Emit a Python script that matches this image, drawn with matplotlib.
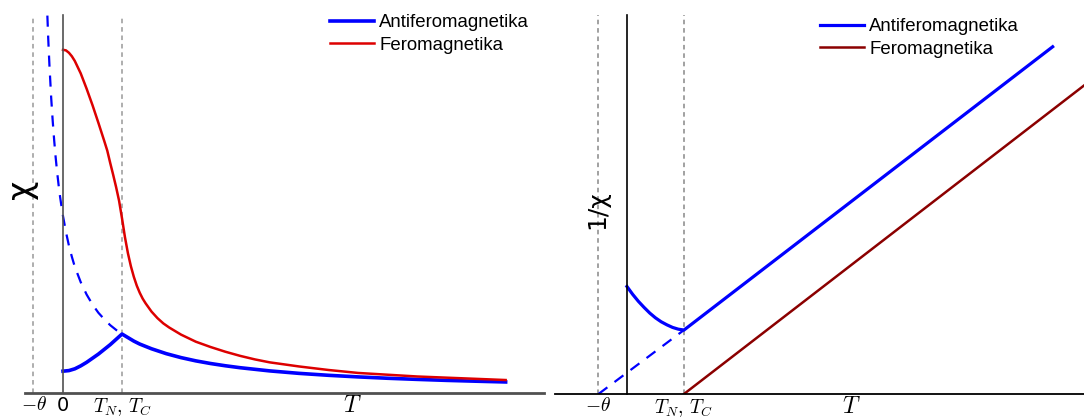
import matplotlib
matplotlib.use("Agg")
import matplotlib.pyplot as plt

plt.rcParams['mathtext.fontset'] = 'cm'
plt.rcParams['font.family'] = ['Liberation Sans', 'DejaVu Sans']

# temperatures in units of T_N (= T_C), theta = 0.5
THETA = 0.5
T_N = 1.0

# --- left panel: susceptibility chi(T) ---
afm_low_T = [0.0, 0.1, 0.2, 0.3, 0.4, 0.5, 0.6, 0.7, 0.8, 0.9, 1.0]
afm_low_chi = [0.37, 0.38, 0.41, 0.46, 0.52, 0.59, 0.66, 0.74, 0.82, 0.91, 1.0]

afm_high_T = [1.0, 1.1, 1.2, 1.3, 1.4, 1.5, 1.75, 2.0, 2.25, 2.5, 2.75, 3.0, 3.5, 4.0,
              4.5, 5.0, 5.5, 6.0, 6.5, 7.0, 7.5]
afm_high_chi = [1.0, 0.94, 0.88, 0.83, 0.79, 0.75, 0.667, 0.60, 0.545, 0.50, 0.462, 0.429,
                0.375, 0.333, 0.30, 0.273, 0.25, 0.231, 0.214, 0.20, 0.187]

cw_T = [-0.265, -0.25, -0.23, -0.2, -0.175, -0.15, -0.125, -0.1, -0.075, -0.05, -0.025, 0.0,
        0.05, 0.1, 0.15, 0.2, 0.3, 0.4, 0.5, 0.6, 0.7, 0.8, 0.9, 1.0]
cw_chi = [6.4, 6.0, 5.56, 5.0, 4.62, 4.29, 4.0, 3.75, 3.53, 3.33, 3.16, 3.0,
          2.73, 2.5, 2.31, 2.14, 1.88, 1.67, 1.5, 1.36, 1.25, 1.15, 1.07, 1.0]

fm_T = [0.0, 0.05, 0.1, 0.15, 0.2, 0.3, 0.4, 0.5, 0.6, 0.7, 0.75, 0.8, 0.85, 0.9, 0.95, 1.0,
        1.05, 1.1, 1.15, 1.2, 1.25, 1.3, 1.35, 1.4, 1.5, 1.6, 1.7, 1.8, 1.9, 2.0, 2.25, 2.5,
        2.75, 3.0, 3.25, 3.5, 4.0, 4.5, 5.0, 5.5, 6.0, 6.5, 7.0, 7.5]
fm_chi = [5.82, 5.81, 5.77, 5.71, 5.63, 5.42, 5.16, 4.88, 4.58, 4.27, 4.11, 3.90, 3.70, 3.49,
          3.26, 2.96, 2.64, 2.37, 2.15, 1.97, 1.82, 1.70, 1.60, 1.52, 1.38, 1.27, 1.18, 1.11,
          1.05, 0.99, 0.87, 0.78, 0.70, 0.63, 0.57, 0.52, 0.45, 0.39, 0.34, 0.31, 0.28, 0.26,
          0.24, 0.22]

# --- right panel: inverse susceptibility 1/chi(T) ---
inv_afm_low_T = [0.0, 0.1, 0.2, 0.3, 0.4, 0.5, 0.6, 0.7, 0.8, 0.9, 1.0]
inv_afm_low = [2.47, 2.29, 2.13, 1.99, 1.86, 1.75, 1.66, 1.59, 1.53, 1.49, 1.47]
inv_afm_high_T = [1.0, 7.47]
inv_afm_high = [1.47, 7.98]
inv_cw_T = [-THETA, 1.0]
inv_cw = [0.0, 1.47]
inv_fm_T = [1.0, 8.05]
inv_fm = [0.0, 7.12]

labels = ['Antiferomagnetika', 'Feromagnetika']
tick_labels_left = [r'$-\theta$', '0', r'$T_N,\,T_C$']
tick_labels_right = [r'$-\theta$', r'$T_N,\,T_C$']

W, H = 1084, 417
fig = plt.figure(figsize=(W / 100, H / 100), dpi=100)


def px_axes(x0, x1, y_top, y_bot):
    return fig.add_axes([x0 / W, 1 - y_bot / H, (x1 - x0) / W, (y_bot - y_top) / H])


def style_axes(ax, color, lw_bottom, lw_left):
    for s in ('top', 'right'):
        ax.spines[s].set_visible(False)
    ax.spines['left'].set_position(('data', 0))
    ax.spines['left'].set_color(color)
    ax.spines['left'].set_linewidth(lw_left)
    ax.spines['bottom'].set_color(color)
    ax.spines['bottom'].set_linewidth(lw_bottom)
    ax.set_yticks([])
    ax.tick_params(axis='x', length=0, pad=2, labelsize=14)


# ---------------- left ----------------
ax1 = px_axes(25, 544, 15, 393)
ax1.set_xlim(-0.644, 8.15)
ax1.set_ylim(0, 6.41)
style_axes(ax1, '#505050', 2.0, 1.2)
for x in (-THETA, T_N):
    ax1.axvline(x, color='#999999', ls=(0, (3, 2.5)), lw=1.1)
ax1.plot(cw_T, cw_chi, color='blue', lw=1.6, ls=(0, (5, 4)))
ax1.plot(afm_low_T + afm_high_T[1:], afm_low_chi + afm_high_chi[1:], color='blue', lw=2.6,
         label=labels[0], solid_joinstyle='round')
ax1.plot(fm_T, fm_chi, color='#dd0000', lw=1.8, label=labels[1], solid_joinstyle='round')
ax1.set_xticks([-THETA, 0, T_N])
ax1.set_xticklabels(tick_labels_left)
ax1.get_xticklabels()[1].set_fontfamily('DejaVu Sans')
ax1.get_xticklabels()[1].set_fontsize(14)
ax1.text(4.9, -0.03, r'$T$', fontsize=17, ha='center', va='top')
ax1.text(-0.71, 3.45, 'χ', fontsize=24, rotation=90, ha='center', va='center',
         family='DejaVu Sans')
ax1.legend(loc='upper left', bbox_to_anchor=(330 / W, 1 - 14 / H),
           bbox_transform=fig.transFigure, frameon=False, fontsize=13.4,
           handlelength=2.35, handletextpad=0.3, labelspacing=0.3, borderpad=0,
           borderaxespad=0)

# ---------------- right ----------------
ax2 = px_axes(555, 1084, 15, 394)
ax2.set_xlim(-1.263, 8.02)
ax2.set_ylim(0, 8.71)
style_axes(ax2, 'black', 1.3, 1.2)
for x in (-THETA, T_N):
    ax2.axvline(x, color='#888888', ls=(0, (3, 2.5)), lw=1.1)
ax2.plot(inv_cw_T, inv_cw, color='blue', lw=1.6, ls=(0, (5, 4)))
ax2.plot(inv_afm_low_T + inv_afm_high_T[1:], inv_afm_low + inv_afm_high[1:], color='blue',
         lw=2.3, label=labels[0], solid_joinstyle='round')
ax2.plot(inv_fm_T, inv_fm, color='#8b0000', lw=1.8, label=labels[1])
ax2.set_xticks([-THETA, T_N])
ax2.set_xticklabels(tick_labels_right)
ax2.text(3.93, -0.04, r'$T$', fontsize=17, ha='center', va='top')
ax2.text(-0.53, 4.23, '1/χ', fontsize=18, rotation=90, ha='center', va='center',
         family='DejaVu Sans')
ax2.legend(loc='upper left', bbox_to_anchor=(820 / W, 1 - 18 / H),
           bbox_transform=fig.transFigure, frameon=False, fontsize=13.4,
           handlelength=2.35, handletextpad=0.3, labelspacing=0.3, borderpad=0,
           borderaxespad=0)

fig.savefig('out.png', dpi=100)
